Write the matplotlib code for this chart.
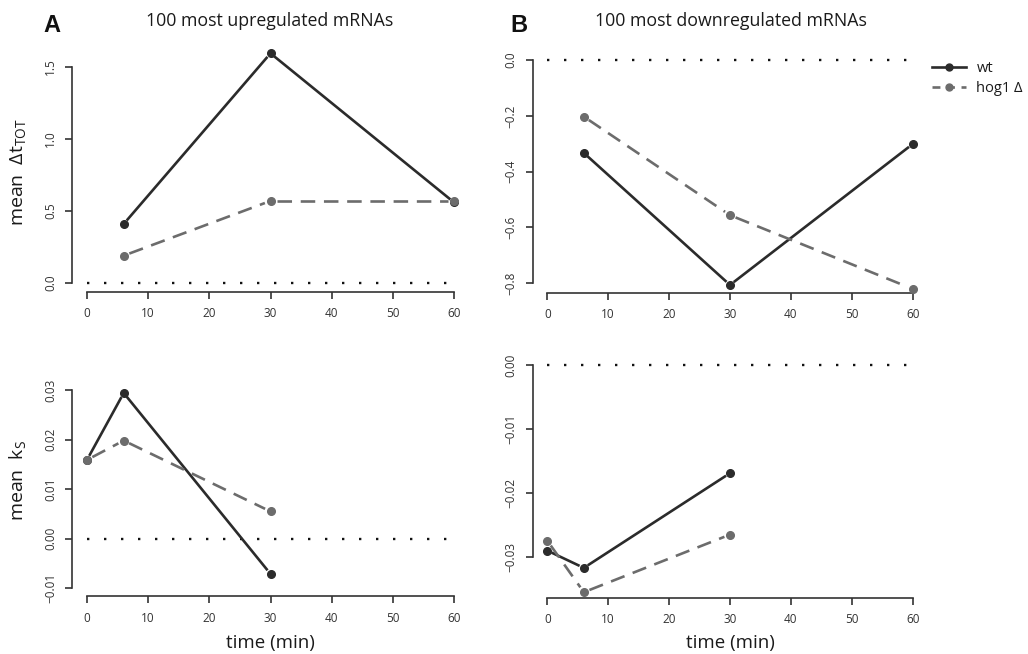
import matplotlib
matplotlib.use("Agg")
import numpy as np
import matplotlib.pyplot as plt
from matplotlib.lines import Line2D

plt.rcParams['font.family'] = ['Open Sans', 'DejaVu Sans']
plt.rcParams['mathtext.fontset'] = 'custom'
plt.rcParams['mathtext.rm'] = 'Open Sans'
plt.rcParams['mathtext.it'] = 'Open Sans'
plt.rcParams['axes.unicode_minus'] = True

# ---------------- data ----------------
time_tot = [6, 30, 60]
up_tot_wt = [0.41, 1.595, 0.56]
up_tot_hog = [0.19, 0.57, 0.57]
down_tot_wt = [-0.333, -0.806, -0.301]
down_tot_hog = [-0.203, -0.556, -0.82]

time_ks = [0, 6, 30]
up_ks_wt = [0.0159, 0.0294, -0.0071]
up_ks_hog = [0.0159, 0.0198, 0.0055]
down_ks_wt = [-0.0290, -0.0317, -0.0169]
down_ks_hog = [-0.02745, -0.0355, -0.0265]

x_ticks = [0, 10, 20, 30, 40, 50, 60]
up_tot_yticks = [0.0, 0.5, 1.0, 1.5]
up_tot_ylabels = ["0.0", "0.5", "1.0", "1.5"]
up_ks_yticks = [-0.01, 0.0, 0.01, 0.02, 0.03]
up_ks_ylabels = ["\u22120.01", "0.00", "0.01", "0.02", "0.03"]
down_tot_yticks = [-0.8, -0.6, -0.4, -0.2, 0.0]
down_tot_ylabels = ["\u22120.8", "\u22120.6", "\u22120.4", "\u22120.2", "0.0"]
down_ks_yticks = [-0.03, -0.02, -0.01, 0.0]
down_ks_ylabels = ["\u22120.03", "\u22120.02", "\u22120.01", "0.00"]

series_labels = ["wt", "hog1 \u0394"]
titles = ["100 most upregulated mRNAs", "100 most downregulated mRNAs"]

# ---------------- layout ----------------
W, H = 1028, 654
fig = plt.figure(figsize=(W / 100, H / 100), dpi=100)
fig.patch.set_facecolor("white")

WT_C = "#2b2b2b"
HOG_C = "#6c6c6c"
AX_C = "#333333"
GAP_PX = 6.0


def place(x0px, x60px, ya_val, ya_px, yb_val, yb_px, xlim, ylim):
    ppx = (x60px - x0px) / 60.0
    left = x0px + xlim[0] * ppx
    right = x0px + xlim[1] * ppx
    ppy = (ya_px - yb_px) / (yb_val - ya_val)
    top_px = ya_px - (ylim[1] - ya_val) * ppy
    bot_px = ya_px + (ya_val - ylim[0]) * ppy
    ax = fig.add_axes([left / W, 1 - bot_px / H, (right - left) / W, (bot_px - top_px) / H])
    ax.set_xlim(*xlim)
    ax.set_ylim(*ylim)
    return ax


def style(ax, yticks, ylabels):
    for s in ["top", "right"]:
        ax.spines[s].set_visible(False)
    for s in ["left", "bottom"]:
        ax.spines[s].set_linewidth(1.2)
        ax.spines[s].set_color(AX_C)
    ax.spines["bottom"].set_bounds(x_ticks[0], x_ticks[-1])
    ax.spines["left"].set_bounds(min(yticks), max(yticks))
    ax.set_xticks(x_ticks)
    ax.set_xticklabels([str(t) for t in x_ticks])
    ax.set_yticks(yticks)
    ax.set_yticklabels(ylabels, rotation=90, va="center")
    ax.tick_params(axis="both", length=5, width=1.2, color=AX_C, labelsize=8.5,
                   labelcolor=AX_C)
    ax.tick_params(axis="x", pad=6)
    ax.tick_params(axis="y", pad=6)
    ax.patch.set_alpha(0)


def gapped_line(ax, x, y, **kw):
    """Draw R type='b' style: segments between points, stopped short of the points."""
    pts = ax.transData.transform(np.column_stack([x, y]))
    inv = ax.transData.inverted()
    for i in range(len(pts) - 1):
        p, q = pts[i], pts[i + 1]
        d = q - p
        L = np.hypot(*d)
        if L <= 2 * GAP_PX:
            continue
        u = d / L
        a = inv.transform(p + u * GAP_PX)
        b = inv.transform(q - u * GAP_PX)
        ax.plot([a[0], b[0]], [a[1], b[1]], clip_on=False, **kw)


def draw(ax, x, wt, hog):
    ax.hlines(0, x_ticks[0], x_ticks[-1], colors="#111111", linewidth=1.7,
              linestyles=(0, (1, 6.2)), zorder=1)
    gapped_line(ax, x, wt, color=WT_C, linewidth=1.9, zorder=3)
    ax.plot(x, wt, linestyle="none", marker="o", markersize=5.5, color=WT_C,
            markeredgecolor=WT_C, zorder=3, clip_on=False)
    gapped_line(ax, x, hog, color=HOG_C, linewidth=1.9, linestyle=(0, (5.5, 3.3)), zorder=4)
    ax.plot(x, hog, linestyle="none", marker="o", markersize=5.5, color=HOG_C,
            markeredgecolor=HOG_C, zorder=4, clip_on=False)


axA1 = place(87, 454, 0.0, 283, 1.5, 67, (-2.4, 62.4), (-0.064, 1.664))
axA2 = place(87, 454, 0.03, 390, -0.01, 588.3, (-2.4, 62.4), (-0.0116, 0.0316))
axB1 = place(547.3, 912.7, 0.0, 60, -0.8, 283.3, (-2.4, 62.4), (-0.834, 0.032))
axB2 = place(547.3, 912.7, 0.0, 365, -0.03, 557, (-2.4, 62.4), (-0.03636, 0.0014))

draw(axA1, time_tot, up_tot_wt, up_tot_hog)
draw(axA2, time_ks, up_ks_wt, up_ks_hog)
draw(axB1, time_tot, down_tot_wt, down_tot_hog)
draw(axB2, time_ks, down_ks_wt, down_ks_hog)

style(axA1, up_tot_yticks, up_tot_ylabels)
style(axA2, up_ks_yticks, up_ks_ylabels)
style(axB1, down_tot_yticks, down_tot_ylabels)
style(axB2, down_ks_yticks, down_ks_ylabels)

# titles and panel letters
fig.text(270 / W, 1 - 21 / H, titles[0], ha="center", va="center", fontsize=12.8, color="#1a1a1a")
fig.text(731 / W, 1 - 21 / H, titles[1], ha="center", va="center", fontsize=12.8, color="#1a1a1a")
fig.text(43 / W, 1 - 25 / H, "A", ha="left", va="center", fontsize=17, fontweight="bold",
         family=["Liberation Sans", "DejaVu Sans"], color="#111111")
fig.text(510 / W, 1 - 25 / H, "B", ha="left", va="center", fontsize=17, fontweight="bold",
         family=["Liberation Sans", "DejaVu Sans"], color="#111111")

# axis labels
fig.text(18 / W, 1 - 172 / H, r"mean  $\Delta\mathrm{t}_{\mathrm{TOT}}$", rotation=90,
         ha="center", va="center", fontsize=14, color="#1a1a1a")
fig.text(18 / W, 1 - 480 / H, r"mean  $\mathrm{k}_{\mathrm{S}}$", rotation=90,
         ha="center", va="center", fontsize=14, color="#1a1a1a")
fig.text(270 / W, 1 - 643 / H, "time (min)", ha="center", va="center", fontsize=13.5, color="#1a1a1a")
fig.text(730 / W, 1 - 643 / H, "time (min)", ha="center", va="center", fontsize=13.5, color="#1a1a1a")

# legend
handles = [
    Line2D([], [], color=WT_C, linewidth=1.9, marker="o", markersize=5),
    Line2D([], [], color=HOG_C, linewidth=1.9, linestyle=(0, (3, 2.5)), marker="o", markersize=5),
]
fig.legend(handles, series_labels, loc="upper left", bbox_to_anchor=(932 / W, 1 - 61 / H),
           frameon=False, fontsize=10.5, handlelength=2.3, handletextpad=0.75,
           labelspacing=0.35, numpoints=1, borderaxespad=0, borderpad=0,
           labelcolor="#1a1a1a")

fig.savefig("out.png", dpi=100, facecolor="white")
